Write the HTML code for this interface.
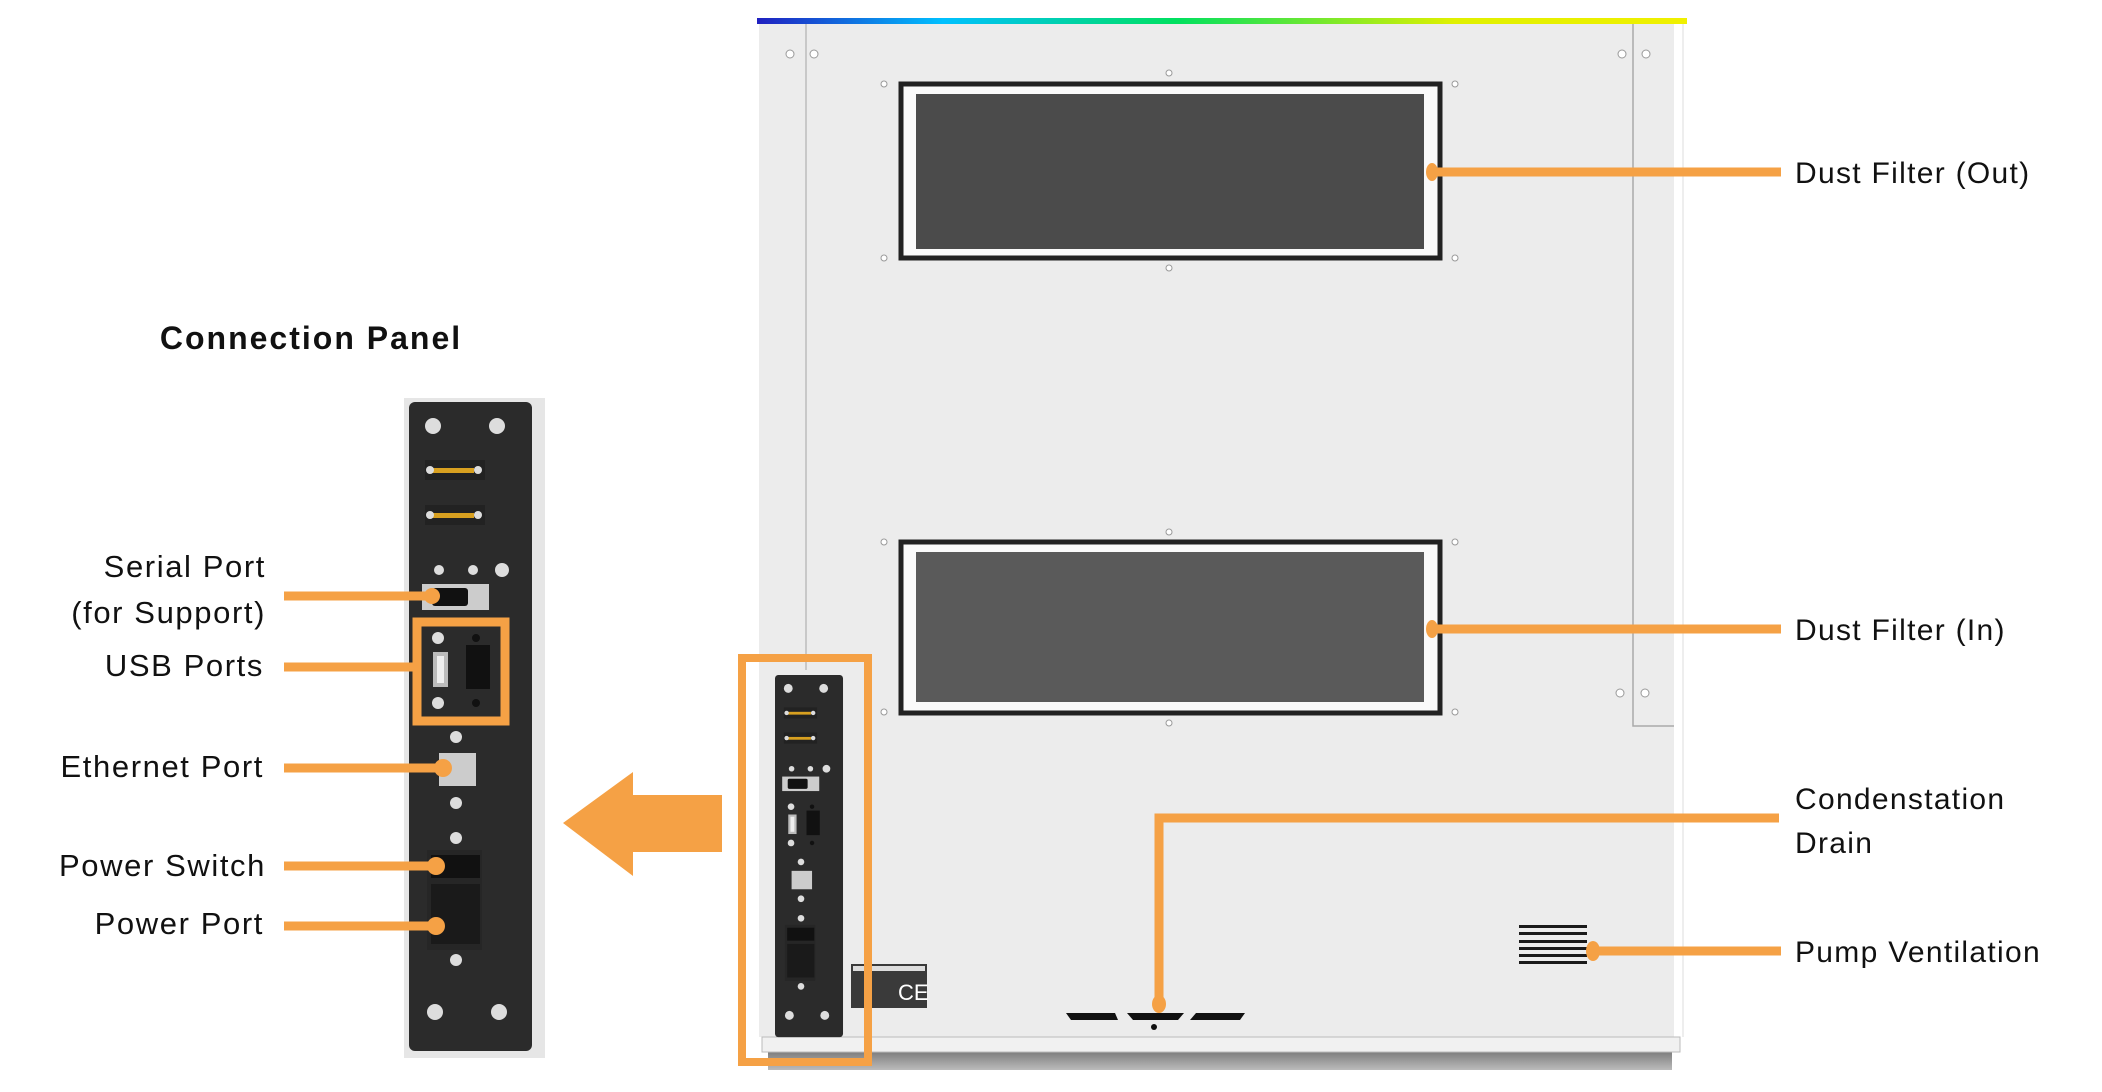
<!DOCTYPE html>
<html><head><meta charset="utf-8"><style>
html,body{margin:0;padding:0;background:#fff}
svg{display:block}
text{font-family:"Liberation Sans",sans-serif;fill:#111}
</style></head><body>
<svg width="2102" height="1092" viewBox="0 0 2102 1092" xmlns="http://www.w3.org/2000/svg">
<defs>
<linearGradient id="rb" x1="0" x2="1" y1="0" y2="0">
<stop offset="0" stop-color="#2020c0"/><stop offset="0.2" stop-color="#00c0ff"/><stop offset="0.45" stop-color="#00e060"/><stop offset="0.75" stop-color="#e0f000"/><stop offset="1" stop-color="#f0f000"/>
</linearGradient>
<linearGradient id="sh" x1="0" x2="0" y1="0" y2="1"><stop offset="0" stop-color="#777"/><stop offset="1" stop-color="#bbb"/></linearGradient>
<g id="panel">
<rect x="409" y="402" width="123" height="649" rx="6" fill="#2b2b2b"/>
<circle cx="433" cy="426" r="8" fill="#ddd"/><circle cx="497" cy="426" r="8" fill="#ddd"/>
<rect x="425" y="460" width="60" height="20" fill="#222"/><rect x="432" y="468" width="42" height="5" fill="#d8a020"/>
<circle cx="430" cy="470" r="4" fill="#ddd"/><circle cx="478" cy="470" r="4" fill="#ddd"/>
<rect x="425" y="505" width="60" height="20" fill="#222"/><rect x="432" y="513" width="42" height="5" fill="#d8a020"/>
<circle cx="430" cy="515" r="4" fill="#ddd"/><circle cx="478" cy="515" r="4" fill="#ddd"/>
<circle cx="439" cy="570" r="5" fill="#ddd"/><circle cx="473" cy="570" r="5" fill="#ddd"/><circle cx="502" cy="570" r="7" fill="#ddd"/>
<rect x="422" y="584" width="67" height="26" fill="#ccc"/><rect x="432" y="588" width="36" height="18" rx="3" fill="#111"/>
<circle cx="438" cy="638" r="6" fill="#ddd"/><circle cx="438" cy="703" r="6" fill="#ddd"/>
<circle cx="476" cy="638" r="4" fill="#111"/><circle cx="476" cy="703" r="4" fill="#111"/>
<rect x="433" y="652" width="15" height="35" fill="#bbb"/><rect x="437" y="656" width="7" height="27" fill="#eee"/>
<rect x="466" y="645" width="24" height="44" fill="#111"/>
<circle cx="456" cy="737" r="6" fill="#ddd"/>
<rect x="439" y="753" width="37" height="33" fill="#ccc"/>
<circle cx="456" cy="803" r="6" fill="#ddd"/><circle cx="456" cy="838" r="6" fill="#ddd"/>
<rect x="427" y="850" width="55" height="100" fill="#262626"/>
<rect x="431" y="855" width="49" height="23" fill="#111"/>
<rect x="431" y="884" width="49" height="60" fill="#1a1a1a"/>
<circle cx="456" cy="960" r="6" fill="#ddd"/>
<circle cx="435" cy="1012" r="8" fill="#ddd"/><circle cx="499" cy="1012" r="8" fill="#ddd"/>
</g>
</defs>

<!-- machine -->
<rect x="768" y="1050" width="904" height="20" fill="url(#sh)"/>
<rect x="759" y="23" width="915" height="1014" fill="#ececec"/>
<rect x="762" y="1037" width="918" height="15" fill="#f1f1f1" stroke="#bbb" stroke-width="1"/>
<rect x="757" y="18" width="930" height="6" fill="url(#rb)"/>
<line x1="806" y1="24" x2="806" y2="670" stroke="#bbb" stroke-width="1.5"/>
<polyline points="1633,24 1633,726 1674,726" fill="none" stroke="#aaa" stroke-width="1.5"/>
<line x1="1683" y1="24" x2="1683" y2="1037" stroke="#ddd" stroke-width="1"/>
<g fill="#fff" stroke="#999" stroke-width="1">
<circle cx="790" cy="54" r="4"/><circle cx="814" cy="54" r="4"/><circle cx="1622" cy="54" r="4"/><circle cx="1646" cy="54" r="4"/>
<circle cx="1620" cy="693" r="4"/><circle cx="1645" cy="693" r="4"/>
<circle cx="1169" cy="73" r="3"/><circle cx="1169" cy="268" r="3"/><circle cx="1169" cy="532" r="3"/><circle cx="1169" cy="723" r="3"/>
<circle cx="884" cy="84" r="3"/><circle cx="1455" cy="84" r="3"/><circle cx="884" cy="258" r="3"/><circle cx="1455" cy="258" r="3"/>
<circle cx="884" cy="542" r="3"/><circle cx="1455" cy="542" r="3"/><circle cx="884" cy="712" r="3"/><circle cx="1455" cy="712" r="3"/>
</g>
<rect x="901" y="84" width="539" height="174" fill="#fafafa" stroke="#222" stroke-width="5"/>
<rect x="916" y="94" width="508" height="155" fill="#4b4b4b"/>
<rect x="901" y="542" width="539" height="171" fill="#fafafa" stroke="#222" stroke-width="5"/>
<rect x="916" y="552" width="508" height="150" fill="#5a5a5a"/>
<!-- CE -->
<rect x="851" y="964" width="76" height="44" fill="#3a3a3a"/>
<rect x="853" y="966" width="72" height="5" fill="#ddd"/>
<text x="898" y="1000" font-size="22" style="fill:#fff">CE</text>
<!-- drain -->
<polygon points="1066,1013 1115,1013 1118,1020 1071,1020" fill="#111"/>
<polygon points="1127,1013 1184,1013 1178,1020 1133,1020" fill="#111"/>
<polygon points="1196,1013 1245,1013 1240,1020 1190,1020" fill="#111"/>
<circle cx="1154" cy="1027" r="3" fill="#111"/>
<!-- vent -->
<g fill="#1a1a1a"><rect x="1519" y="925" width="68" height="3"/><rect x="1519" y="932" width="68" height="3"/><rect x="1519" y="940" width="68" height="3"/><rect x="1519" y="947" width="68" height="3"/><rect x="1519" y="954" width="68" height="3"/><rect x="1519" y="961" width="68" height="3"/></g>
<!-- small panel -->
<g transform="translate(775,675) scale(0.553,0.558) translate(-409,-402)"><use href="#panel"/></g>
<rect x="742" y="658" width="126" height="404" fill="none" stroke="#F5A145" stroke-width="8"/>

<!-- right leaders -->
<g stroke="#F5A145" stroke-width="9" fill="none">
<line x1="1432" y1="172" x2="1781" y2="172"/>
<line x1="1432" y1="629" x2="1781" y2="629"/>
<polyline points="1779,818 1159,818 1159,1006"/>
<line x1="1593" y1="951" x2="1781" y2="951"/>
</g>
<g fill="#F5A145"><ellipse cx="1432" cy="172" rx="6" ry="9"/><ellipse cx="1432" cy="629" rx="6" ry="9"/><ellipse cx="1159" cy="1004" rx="7" ry="9"/><ellipse cx="1593" cy="951" rx="7" ry="10"/></g>
<g font-size="30" letter-spacing="1.3">
<text x="1795" y="183">Dust Filter (Out)</text>
<text x="1795" y="640">Dust Filter (In)</text>
<text x="1795" y="809">Condenstation</text>
<text x="1795" y="853">Drain</text>
<text x="1795" y="962">Pump Ventilation</text>
</g>

<!-- arrow -->
<polygon points="563,823 633,772 633,795 722,795 722,852 633,852 633,876" fill="#F5A145"/>

<!-- connection panel -->
<text x="311" y="349" font-size="32" font-weight="bold" text-anchor="middle" letter-spacing="2">Connection Panel</text>
<rect x="404" y="398" width="141" height="660" fill="#e6e6e6"/>
<use href="#panel"/>
<rect x="417" y="622" width="88" height="99" fill="none" stroke="#F5A145" stroke-width="9"/>
<g stroke="#F5A145" stroke-width="9">
<line x1="284" y1="596" x2="432" y2="596"/>
<line x1="284" y1="667" x2="415" y2="667"/>
<line x1="284" y1="768" x2="443" y2="768"/>
<line x1="284" y1="866" x2="436" y2="866"/>
<line x1="284" y1="926" x2="436" y2="926"/>
</g>
<g fill="#F5A145"><circle cx="432" cy="596" r="8"/><circle cx="443" cy="768" r="9"/><circle cx="436" cy="866" r="9"/><circle cx="436" cy="926" r="9"/></g>
<g font-size="31" text-anchor="end" letter-spacing="1.6">
<text x="266" y="577">Serial Port</text>
<text x="266" y="623">(for Support)</text>
<text x="264" y="676">USB Ports</text>
<text x="264" y="777">Ethernet Port</text>
<text x="266" y="876">Power Switch</text>
<text x="264" y="934">Power Port</text>
</g>
</svg>
</body></html>
